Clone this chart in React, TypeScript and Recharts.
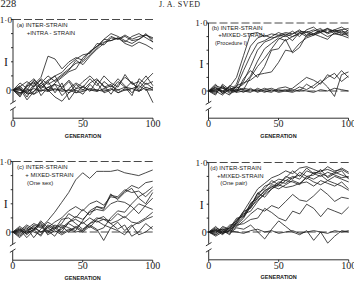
import React from 'react';
import { LineChart, Line, XAxis, YAxis, ReferenceLine } from 'recharts';

// Generations at which each replicate line was scored
const GENERATIONS = [0, 5, 10, 15, 20, 25, 30, 35, 40, 45, 50, 55, 60, 65, 70, 75, 80, 85, 90, 95, 100];

// (a) inter-strain + intra-strain
const PANEL_A_LINES: number[][] = [
  [0, 0.02, -0.05, 0.08, 0.18, 0.48, 0.44, 0.3, 0.4, 0.46, 0.42, 0.55, 0.62, 0.72, 0.7, 0.74, 0.68, 0.76, 0.8, 0.74, 0.68],
  [0, -0.08, 0.05, 0.1, 0.02, 0.12, 0.2, 0.25, 0.36, 0.44, 0.5, 0.52, 0.66, 0.64, 0.74, 0.72, 0.78, 0.72, 0.76, 0.78, 0.72],
  [0, 0.05, 0.12, 0.04, 0.16, 0.08, 0.14, 0.22, 0.3, 0.38, 0.4, 0.5, 0.6, 0.72, 0.8, 0.76, 0.7, 0.66, 0.72, 0.8, 0.68],
  [0, -0.04, 0.0, 0.14, 0.06, 0.0, 0.1, 0.18, 0.26, 0.3, 0.46, 0.54, 0.62, 0.68, 0.7, 0.74, 0.66, 0.62, 0.68, 0.64, 0.58],
  [0, 0.06, -0.06, -0.02, 0.1, 0.2, 0.12, 0.2, 0.28, 0.42, 0.36, 0.48, 0.58, 0.66, 0.76, 0.72, 0.76, 0.7, 0.72, 0.78, 0.74],
  [0, 0.04, -0.1, 0.06, 0.14, -0.02, 0.08, -0.08, 0.02, 0.1, 0.04, 0.16, 0.06, 0.2, 0.1, 0.04, 0.22, 0.08, 0.12, 0.02, -0.18],
  [0, -0.1, 0.08, 0.16, 0.02, 0.12, -0.04, 0.1, -0.14, 0.0, -0.06, 0.08, -0.02, 0.12, 0.04, 0.16, 0.06, -0.04, 0.08, 0.2, 0.06],
  [0, 0.1, 0.02, -0.06, 0.06, 0.14, 0.2, 0.02, 0.12, -0.04, 0.06, -0.02, 0.14, 0.06, -0.06, 0.08, 0.18, 0.1, 0.02, 0.14, 0.24],
  [0, -0.04, -0.02, 0.02, -0.02, 0.04, 0.0, 0.02, -0.04, 0.02, 0.04, 0.0, -0.02, 0.02, 0.06, 0.0, 0.04, 0.02, 0.06, 0.0, 0.04],
  [0, 0.02, -0.14, -0.02, 0.1, 0.0, -0.1, -0.16, -0.04, 0.08, 0.0, 0.1, 0.16, 0.04, 0.08, -0.04, 0.02, 0.12, -0.02, 0.1, 0.02],
  [0, -0.06, 0.06, 0.12, -0.08, 0.04, 0.08, 0.04, 0.14, 0.02, 0.12, 0.2, 0.1, -0.04, 0.0, 0.12, 0.04, -0.08, 0.16, 0.08, 0.12],
  [0, 0.0, -0.04, -0.06, 0.0, -0.02, 0.02, -0.02, 0.0, -0.04, -0.02, 0.02, 0.0, -0.02, 0.02, -0.04, 0.0, 0.02, -0.02, 0.04, 0.0],
];

// (b) inter-strain + mixed-strain (procedure I)
const PANEL_B_LINES: number[][] = [
  [0, 0.05, -0.02, 0.06, 0.2, 0.52, 0.84, 0.86, 0.8, 0.84, 0.82, 0.86, 0.84, 0.88, 0.86, 0.9, 0.86, 0.92, 0.88, 0.9, 0.92],
  [0, 0.08, 0.04, 0.0, 0.1, 0.4, 0.66, 0.78, 0.82, 0.78, 0.8, 0.84, 0.8, 0.86, 0.88, 0.84, 0.9, 0.86, 0.9, 0.94, 0.88],
  [0, -0.06, 0.1, 0.02, 0.06, 0.3, 0.52, 0.7, 0.74, 0.8, 0.86, 0.82, 0.88, 0.8, 0.9, 0.94, 0.86, 0.9, 0.88, 0.86, 0.84],
  [0, 0.02, 0.06, -0.04, 0.0, 0.14, 0.36, 0.6, 0.72, 0.76, 0.82, 0.8, 0.84, 0.9, 0.82, 0.88, 0.92, 0.84, 0.88, 0.9, 0.8],
  [0, 0.1, -0.04, 0.08, 0.04, 0.1, 0.22, 0.44, 0.62, 0.7, 0.78, 0.74, 0.8, 0.84, 0.86, 0.82, 0.88, 0.92, 0.84, 0.88, 0.86],
  [0, -0.02, 0.04, 0.0, 0.06, 0.02, 0.2, 0.36, 0.48, 0.62, 0.76, 0.82, 0.74, 0.86, 0.8, 0.84, 0.88, 0.86, 0.9, 0.84, 0.82],
  [0, 0.04, 0.0, -0.06, 0.08, 0.12, 0.16, 0.24, 0.26, 0.28, 0.42, 0.6, 0.58, 0.7, 0.78, 0.82, 0.86, 0.8, 0.84, 0.82, 0.78],
  [0, 0.0, 0.06, 0.02, -0.02, 0.18, 0.3, 0.2, 0.36, 0.6, 0.62, 0.76, 0.56, 0.64, 0.82, 0.84, 0.8, 0.76, 0.86, 0.82, 0.9],
  [0, 0.06, -0.04, 0.02, 0.0, 0.04, 0.02, 0.0, 0.04, 0.0, 0.02, 0.0, 0.04, 0.12, 0.2, 0.16, 0.1, 0.24, 0.18, 0.3, 0.2],
  [0, -0.04, 0.08, -0.02, 0.02, -0.02, 0.04, -0.02, 0.02, 0.04, 0.0, 0.02, 0.0, 0.06, 0.02, 0.08, 0.16, 0.06, -0.08, 0.24, 0.28],
  [0, 0.02, 0.0, 0.06, -0.02, 0.0, -0.02, 0.04, 0.0, -0.02, 0.04, 0.06, 0.02, 0.0, 0.1, 0.04, 0.12, 0.2, 0.26, 0.14, 0.22],
  [0, 0.0, -0.06, 0.04, 0.02, 0.02, 0.0, 0.02, -0.02, 0.02, -0.02, 0.0, -0.02, 0.02, 0.0, -0.02, 0.02, 0.0, 0.04, 0.02, 0.0],
];

// (c) inter-strain + mixed-strain (one sex)
const PANEL_C_LINES: number[][] = [
  [0, 0.04, -0.02, 0.1, 0.06, 0.16, 0.28, 0.42, 0.56, 0.74, 0.84, 0.76, 0.86, 0.86, 0.86, 0.88, 0.84, 0.82, 0.8, 0.84, 0.88],
  [0, -0.06, 0.02, 0.08, 0.0, 0.06, 0.14, 0.2, 0.3, 0.36, 0.3, 0.4, 0.44, 0.38, 0.5, 0.48, 0.58, 0.66, 0.62, 0.7, 0.72],
  [0, 0.02, 0.1, 0.04, 0.14, 0.02, 0.06, 0.12, 0.26, 0.2, 0.32, 0.24, 0.36, 0.32, 0.52, 0.5, 0.6, 0.56, 0.58, 0.5, 0.6],
  [0, 0.06, -0.04, 0.04, -0.06, 0.08, 0.04, 0.1, 0.06, 0.02, 0.16, 0.3, 0.36, 0.34, 0.54, 0.46, 0.56, 0.62, 0.48, 0.4, 0.56],
  [0, -0.02, 0.06, -0.08, 0.04, 0.14, 0.08, 0.0, 0.14, 0.22, 0.18, 0.28, 0.32, 0.3, 0.4, 0.44, 0.42, 0.36, 0.26, 0.38, 0.48],
  [0, 0.08, 0.0, 0.02, 0.1, 0.0, 0.04, 0.18, 0.2, 0.12, 0.04, 0.12, 0.2, 0.18, 0.16, 0.26, 0.2, 0.3, 0.4, 0.36, 0.32],
  [0, -0.04, 0.04, 0.12, 0.08, -0.02, 0.1, 0.06, 0.14, 0.18, 0.12, 0.2, 0.14, 0.18, 0.12, 0.16, 0.22, 0.14, 0.12, 0.18, 0.22],
  [0, 0.04, -0.08, 0.02, 0.16, 0.06, 0.0, 0.04, 0.12, 0.06, 0.14, 0.06, 0.18, 0.22, 0.12, 0.04, 0.1, -0.06, 0.0, 0.12, 0.04],
  [0, 0.0, 0.08, 0.0, -0.04, 0.1, 0.06, -0.02, 0.04, 0.0, 0.02, 0.1, 0.04, -0.12, 0.06, 0.14, 0.02, 0.1, -0.04, 0.0, 0.08],
  [0, -0.08, 0.02, 0.06, 0.0, 0.02, -0.06, 0.08, 0.0, 0.08, 0.02, 0.12, 0.16, 0.1, 0.06, 0.02, -0.04, 0.08, 0.14, 0.2, 0.28],
  [0, 0.02, -0.02, 0.04, 0.12, -0.04, 0.02, -0.04, 0.02, 0.06, 0.0, 0.08, 0.02, 0.06, 0.2, 0.3, 0.28, 0.4, 0.5, 0.56, 0.64],
];

// (d) inter-strain + mixed-strain (one pair)
const PANEL_D_LINES: number[][] = [
  [0, 0.02, -0.04, 0.08, 0.16, 0.3, 0.46, 0.62, 0.7, 0.78, 0.82, 0.88, 0.84, 0.92, 0.94, 0.9, 0.86, 0.94, 0.88, 0.9, 0.84],
  [0, -0.04, 0.06, 0.04, 0.18, 0.24, 0.4, 0.52, 0.66, 0.7, 0.76, 0.74, 0.8, 0.76, 0.88, 0.84, 0.8, 0.86, 0.82, 0.78, 0.8],
  [0, 0.04, 0.0, 0.1, 0.12, 0.28, 0.36, 0.56, 0.62, 0.74, 0.68, 0.8, 0.76, 0.86, 0.8, 0.82, 0.9, 0.78, 0.84, 0.88, 0.76],
  [0, 0.08, -0.02, 0.06, 0.2, 0.22, 0.42, 0.48, 0.6, 0.64, 0.72, 0.7, 0.78, 0.82, 0.76, 0.86, 0.84, 0.8, 0.86, 0.82, 0.78],
  [0, 0.0, 0.04, 0.02, 0.14, 0.3, 0.34, 0.5, 0.58, 0.68, 0.66, 0.74, 0.72, 0.68, 0.8, 0.76, 0.82, 0.74, 0.8, 0.76, 0.72],
  [0, -0.02, 0.08, 0.04, 0.1, 0.2, 0.38, 0.56, 0.5, 0.62, 0.7, 0.78, 0.88, 0.8, 0.92, 0.84, 0.88, 0.9, 0.86, 0.92, 0.86],
  [0, 0.06, 0.02, -0.04, 0.16, 0.26, 0.3, 0.44, 0.56, 0.66, 0.62, 0.68, 0.74, 0.7, 0.72, 0.66, 0.74, 0.7, 0.66, 0.72, 0.62],
  [0, -0.06, 0.0, 0.06, 0.12, 0.22, 0.36, 0.46, 0.54, 0.62, 0.68, 0.64, 0.66, 0.7, 0.78, 0.72, 0.68, 0.74, 0.7, 0.66, 0.6],
  [0, 0.02, 0.04, 0.0, 0.08, 0.16, 0.26, 0.34, 0.3, 0.38, 0.34, 0.44, 0.54, 0.46, 0.44, 0.52, 0.62, 0.54, 0.44, 0.5, 0.48],
  [0, 0.04, -0.02, 0.02, 0.1, 0.12, 0.18, 0.2, 0.34, 0.28, 0.2, 0.16, 0.3, 0.26, 0.4, 0.34, 0.22, 0.34, 0.3, 0.26, 0.36],
  [0, -0.04, 0.02, -0.02, 0.06, 0.04, 0.1, 0.0, -0.1, 0.04, 0.16, 0.08, 0.0, -0.04, 0.02, -0.12, 0.0, -0.16, -0.06, 0.02, 0.0],
  [0, 0.02, -0.02, 0.02, 0.0, -0.02, 0.02, 0.04, 0.0, 0.02, -0.02, 0.0, 0.02, -0.02, 0.0, 0.02, 0.0, -0.02, 0.02, 0.0, 0.02],
];

const X_TICKS = [0, 50, 100];
const Y_TICKS = [0, 0.2, 0.4, 0.6, 0.8, 1];
const Y_DOMAIN: [number, number] = [-0.4, 1];
const X_TITLE = 'GENERATION';
const Y_TITLE = 'I';

const PANEL_A_CAPTION = ['(a) INTER-STRAIN', '+INTRA - STRAIN'];
const PANEL_B_CAPTION = ['(b) INTER-STRAIN', '+MIXED-STRAIN', '(Procedure I)'];
const PANEL_C_CAPTION = ['(c) INTER-STRAIN', '+ MIXED-STRAIN', '(One sex)'];
const PANEL_D_CAPTION = ['(d) INTER-STRAIN', '+MIXED-STRAIN', '(One pair)'];

const INK = '#1a1a1a';
const SERIF = '"Liberation Serif", "Times New Roman", serif';
const SANS = '"Liberation Sans", Arial, sans-serif';

const BOX_W = 177;
const BOX_H = 142;
const X_AXIS_H = 20;
const Y_AXIS_W = 10;

function buildRows(lines: number[][]) {
  return GENERATIONS.map((g, i) => {
    const row: Record<string, number> = { gen: g };
    lines.forEach((ln, k) => {
      row['r' + k] = ln[i];
    });
    return row;
  });
}

function renderYTick(props: any) {
  const { x, y, payload } = props;
  const v = payload.value;
  if (v === 1) {
    return (
      <text x={x + 1} y={y} dy="0.36em" textAnchor="end" fontSize={9.2} fontFamily={SERIF} fill={INK}>
        1·0
      </text>
    );
  }
  if (v === 0) {
    return (
      <text x={x} y={y} dy="0.36em" textAnchor="end" fontSize={10} fontFamily={SERIF} fill={INK}>
        0
      </text>
    );
  }
  if (v === 0.4) {
    return (
      <text x={x - 3} y={y} dy="0.36em" textAnchor="end" fontSize={12} fontFamily={SERIF} fill={INK}>
        {Y_TITLE}
      </text>
    );
  }
  return <g />;
}

type PanelProps = {
  lines: number[][];
  left: number;
  top: number;
  plot: { l: number; r: number; t: number; b: number };
};

function Panel({ lines, left, top, plot }: PanelProps) {
  const rows = buildRows(lines);
  const margin = {
    top: plot.t,
    right: BOX_W - plot.r,
    bottom: BOX_H - plot.b - X_AXIS_H,
    left: plot.l - Y_AXIS_W,
  };
  const axisStroke = { stroke: INK, strokeWidth: 0.9 };
  return (
    <div style={{ position: 'absolute', left, top, width: BOX_W, height: BOX_H }}>
      <LineChart width={BOX_W} height={BOX_H} data={rows} margin={margin}>
        <XAxis
          dataKey="gen"
          type="number"
          domain={[0, 100]}
          ticks={X_TICKS}
          interval={0}
          height={X_AXIS_H}
          tickSize={2}
          tickMargin={0}
          axisLine={axisStroke}
          tickLine={axisStroke}
          tick={{ fontSize: 10, fontFamily: SERIF, fill: INK }}
          label={{
            value: X_TITLE,
            position: 'insideBottom',
            offset: 0.5,
            style: { fontSize: 5.5, fontFamily: SANS, fontWeight: 600, fill: INK },
          }}
        />
        <YAxis
          type="number"
          domain={Y_DOMAIN}
          ticks={Y_TICKS}
          interval={0}
          width={Y_AXIS_W}
          tickSize={2}
          tickMargin={0}
          axisLine={false}
          tickLine={axisStroke}
          tick={renderYTick}
        />
        <ReferenceLine y={1} stroke={INK} strokeWidth={0.8} strokeDasharray="8 3" />
        <ReferenceLine y={0} stroke={INK} strokeWidth={0.8} strokeDasharray="8 3" />
        {/* broken vertical axis */}
        <ReferenceLine segment={[{ x: 0, y: 1 }, { x: 0, y: -0.17 }]} stroke={INK} strokeWidth={0.9} ifOverflow="visible" />
        <ReferenceLine segment={[{ x: 0, y: -0.27 }, { x: 0, y: -0.4 }]} stroke={INK} strokeWidth={0.9} ifOverflow="visible" />
        <ReferenceLine segment={[{ x: -2, y: -0.2 }, { x: 2, y: -0.15 }]} stroke={INK} strokeWidth={0.9} ifOverflow="visible" />
        <ReferenceLine segment={[{ x: -2, y: -0.29 }, { x: 2, y: -0.24 }]} stroke={INK} strokeWidth={0.9} ifOverflow="visible" />
        {lines.map((_, k) => (
          <Line
            key={k}
            type="linear"
            dataKey={'r' + k}
            stroke={INK}
            strokeWidth={0.8}
            dot={false}
            activeDot={false}
            isAnimationActive={false}
          />
        ))}
      </LineChart>
    </div>
  );
}

function Caption({ x, y, lines, indent }: { x: number; y: number; lines: string[]; indent: number[] }) {
  return (
    <g>
      {lines.map((t, i) => (
        <text
          key={i}
          x={x + indent[i]}
          y={y + i * 7.6}
          fontSize={i === 2 && t.startsWith('(P') ? 5.5 : 6}
          fontFamily={SANS}
          fill={INK}
        >
          {t}
        </text>
      ))}
    </g>
  );
}

export default function App() {
  return (
    <div style={{ position: 'absolute', left: 0, top: 0, width: 354, height: 285, background: '#fff', overflow: 'hidden' }}>
      <Panel lines={PANEL_A_LINES} left={0} top={0} plot={{ l: 13, r: 153, t: 19.5, b: 118.2 }} />
      <Panel lines={PANEL_B_LINES} left={177} top={0} plot={{ l: 31.5, r: 171.5, t: 23, b: 118.2 }} />
      <Panel lines={PANEL_C_LINES} left={0} top={140} plot={{ l: 12.7, r: 152.7, t: 21.5, b: 120.2 }} />
      <Panel lines={PANEL_D_LINES} left={177} top={140} plot={{ l: 31.7, r: 171.7, t: 22.5, b: 119.8 }} />
      <svg width={354} height={285} style={{ position: 'absolute', left: 0, top: 0, pointerEvents: 'none' }}>
        <text x={0.5} y={6.5} fontSize={10.5} fontFamily={SERIF} fill={INK}>228</text>
        <text x={159} y={7.4} fontSize={8} letterSpacing={0.4} fontFamily={SERIF} fill={INK}>J. A. SVED</text>
        <Caption x={16.7} y={27.3} lines={PANEL_A_CAPTION} indent={[0, 10]} />
        <Caption x={211.7} y={29.5} lines={PANEL_B_CAPTION} indent={[0, 6.5, 3.3]} />
        <Caption x={17} y={169.3} lines={PANEL_C_CAPTION} indent={[0, 8.3, 10]} />
        <Caption x={210.3} y={170} lines={PANEL_D_CAPTION} indent={[0, 6.7, 10]} />
      </svg>
    </div>
  );
}
